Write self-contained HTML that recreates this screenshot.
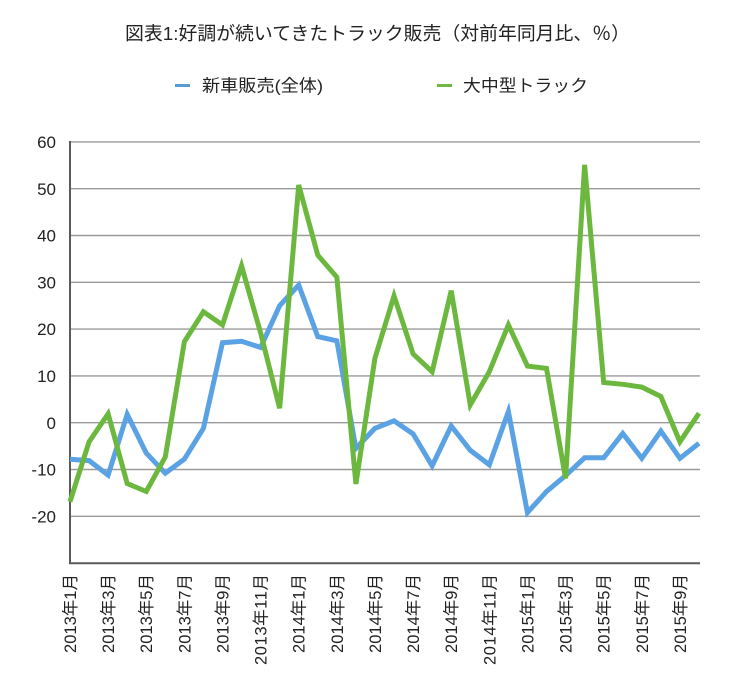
<!DOCTYPE html>
<html><head><meta charset="utf-8"><style>
html,body{margin:0;padding:0;background:#fff;}
svg{display:block;font-family:"Liberation Sans","Noto Sans CJK JP",sans-serif;}
</style></head><body>
<svg width="741" height="675" viewBox="0 0 741 675" xmlns="http://www.w3.org/2000/svg">
<rect width="741" height="675" fill="#fff"/>
<text x="125" y="40" font-size="18.7" fill="#222" textLength="505" lengthAdjust="spacingAndGlyphs">図表1:好調が続いてきたトラック販売（対前年同月比、％）</text>
<line x1="175" y1="85.5" x2="190" y2="85.5" stroke="#5b9bd5" stroke-width="3"/>
<text x="202" y="91.5" font-size="17" fill="#222" textLength="121" lengthAdjust="spacingAndGlyphs">新車販売(全体)</text>
<line x1="437" y1="85.5" x2="452" y2="85.5" stroke="#70b844" stroke-width="3"/>
<text x="463" y="91.5" font-size="17" fill="#222" textLength="125" lengthAdjust="spacingAndGlyphs">大中型トラック</text>
<g stroke="#9a9a9a" stroke-width="1.4">
<line x1="70" y1="141.9" x2="700" y2="141.9"/>
<line x1="70" y1="188.7" x2="700" y2="188.7"/>
<line x1="70" y1="235.5" x2="700" y2="235.5"/>
<line x1="70" y1="282.3" x2="700" y2="282.3"/>
<line x1="70" y1="329.1" x2="700" y2="329.1"/>
<line x1="70" y1="375.9" x2="700" y2="375.9"/>
<line x1="70" y1="422.7" x2="700" y2="422.7"/>
<line x1="70" y1="469.5" x2="700" y2="469.5"/>
<line x1="70" y1="516.3" x2="700" y2="516.3"/>
</g>
<g stroke="#5a5a5a" stroke-width="2">
<line x1="70" y1="141" x2="70" y2="564"/>
<line x1="69" y1="563.2" x2="700" y2="563.2"/>
</g>
<g font-size="17" fill="#222" text-anchor="end">
<text x="56" y="148">60</text>
<text x="56" y="194.8">50</text>
<text x="56" y="241.6">40</text>
<text x="56" y="288.4">30</text>
<text x="56" y="335.2">20</text>
<text x="56" y="382">10</text>
<text x="56" y="428.8">0</text>
<text x="56" y="475.6">-10</text>
<text x="56" y="522.4">-20</text>
</g>
<g font-size="16.5" fill="#222" text-anchor="end" lengthAdjust="spacingAndGlyphs">
<text transform="translate(76,574) rotate(-90)" textLength="79">2013年1月</text>
<text transform="translate(114.1,574) rotate(-90)" textLength="79">2013年3月</text>
<text transform="translate(152.2,574) rotate(-90)" textLength="79">2013年5月</text>
<text transform="translate(190.4,574) rotate(-90)" textLength="79">2013年7月</text>
<text transform="translate(228.5,574) rotate(-90)" textLength="79">2013年9月</text>
<text transform="translate(266.6,574) rotate(-90)" textLength="91">2013年11月</text>
<text transform="translate(304.7,574) rotate(-90)" textLength="79">2014年1月</text>
<text transform="translate(342.8,574) rotate(-90)" textLength="79">2014年3月</text>
<text transform="translate(381,574) rotate(-90)" textLength="79">2014年5月</text>
<text transform="translate(419.1,574) rotate(-90)" textLength="79">2014年7月</text>
<text transform="translate(457.2,574) rotate(-90)" textLength="79">2014年9月</text>
<text transform="translate(495.3,574) rotate(-90)" textLength="91">2014年11月</text>
<text transform="translate(533.4,574) rotate(-90)" textLength="79">2015年1月</text>
<text transform="translate(571.6,574) rotate(-90)" textLength="79">2015年3月</text>
<text transform="translate(609.7,574) rotate(-90)" textLength="79">2015年5月</text>
<text transform="translate(647.8,574) rotate(-90)" textLength="79">2015年7月</text>
<text transform="translate(685.9,574) rotate(-90)" textLength="79">2015年9月</text>
</g>
<polyline fill="none" stroke="#5aa2e4" stroke-width="5" stroke-linejoin="miter" stroke-miterlimit="4" points="70,459.2 89.06,460.6 108.12,475.1 127.18,414.3 146.24,453.1 165.3,473.2 184.36,459.2 203.42,428.3 222.48,342.7 241.54,341.3 260.6,347.4 279.66,305.7 298.72,285.1 317.78,336.6 336.84,340.8 355.9,448.4 374.96,428.3 394.02,420.8 413.08,433.9 432.14,465.8 451.2,426.0 470.26,450.3 489.32,464.8 508.38,411.5 527.44,512.6 546.5,491.5 565.56,475.6 584.62,457.8 603.68,457.8 622.74,433.5 641.8,458.3 660.86,431.1 679.92,458.3 698.98,443.3"/>
<polyline fill="none" stroke="#6cb83f" stroke-width="5" stroke-linejoin="miter" stroke-miterlimit="4" points="70,501.8 89.06,441.9 108.12,413.8 127.18,483.5 146.24,491.5 165.3,456.9 184.36,341.7 203.42,311.8 222.48,324.9 241.54,265.9 260.6,332.8 279.66,408.2 298.72,185.0 317.78,255.2 336.84,277.1 355.9,484.0 374.96,358.1 394.02,295.9 413.08,353.9 432.14,371.7 451.2,290.7 470.26,404.9 489.32,371.7 508.38,324.9 527.44,366.1 546.5,368.4 565.56,478.4 584.62,164.8 603.68,382.5 622.74,384.3 641.8,387.1 660.86,396.5 679.92,441.9 698.98,413.3"/>
</svg>
</body></html>
